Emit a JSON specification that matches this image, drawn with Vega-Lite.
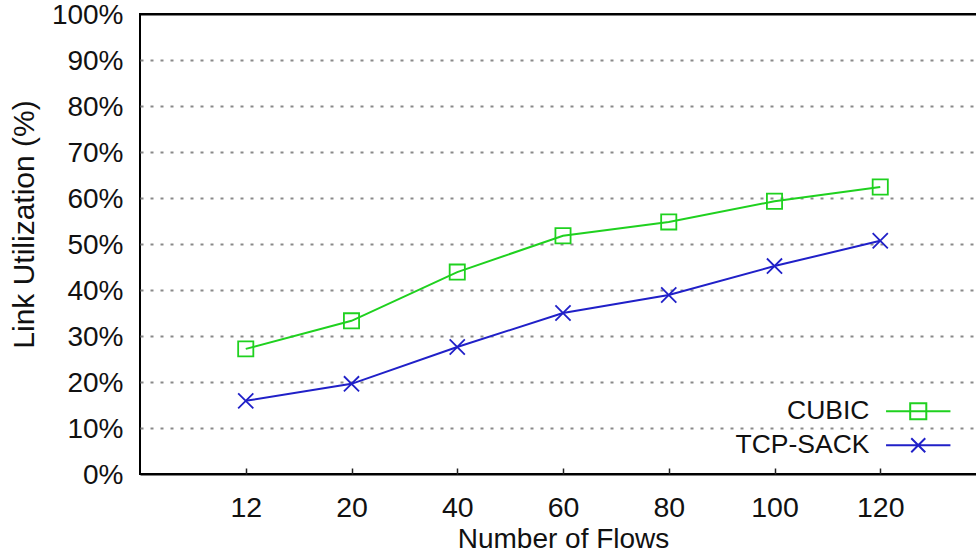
{
  "$schema": "https://vega.github.io/schema/vega-lite/v6.json",
  "width": 846,
  "height": 460,
  "autosize": {"type": "none"},
  "padding": {"left": 140, "top": 14, "right": 0, "bottom": 82},
  "background": "white",
  "config": {
    "font": "Liberation Sans",
    "view": {"stroke": "black", "strokeWidth": 2},
    "axis": {"labelFont": "Liberation Sans", "titleFont": "Liberation Sans", "labelColor": "#111", "titleColor": "#111", "titleFontWeight": "normal"}
  },
  "data": {
    "values": [
      {"flows": "12", "series": "CUBIC", "util": 27.2},
      {"flows": "20", "series": "CUBIC", "util": 33.3},
      {"flows": "40", "series": "CUBIC", "util": 43.9},
      {"flows": "60", "series": "CUBIC", "util": 51.8},
      {"flows": "80", "series": "CUBIC", "util": 54.8},
      {"flows": "100", "series": "CUBIC", "util": 59.3},
      {"flows": "120", "series": "CUBIC", "util": 62.4},
      {"flows": "12", "series": "TCP-SACK", "util": 15.9},
      {"flows": "20", "series": "TCP-SACK", "util": 19.6},
      {"flows": "40", "series": "TCP-SACK", "util": 27.6},
      {"flows": "60", "series": "TCP-SACK", "util": 35.0},
      {"flows": "80", "series": "TCP-SACK", "util": 38.9},
      {"flows": "100", "series": "TCP-SACK", "util": 45.2},
      {"flows": "120", "series": "TCP-SACK", "util": 50.7}
    ]
  },
  "encoding": {
    "x": {
      "field": "flows", "type": "ordinal", "sort": null,
      "scale": {"type": "point", "padding": 1},
      "axis": {
        "title": "Number of Flows", "titleFontSize": 28, "labelFontSize": 28.5, "labelAngle": 0,
        "domain": false, "grid": false, "ticks": true, "tickSize": -6, "tickColor": "#222", "tickWidth": 1.5,
        "labelPadding": 25, "titlePadding": 4
      }
    },
    "y": {
      "field": "util", "type": "quantitative",
      "scale": {"domain": [0, 100], "nice": false},
      "axis": {
        "title": "Link Utilization (%)", "titleFontSize": 30, "labelFontSize": 28,
        "values": [0, 10, 20, 30, 40, 50, 60, 70, 80, 90, 100],
        "labelExpr": "datum.value + '%'",
        "domain": false, "ticks": false, "labelPadding": 17, "labelOffset": 1.5,
        "grid": true,
        "gridColor": {"condition": {"test": "datum.value === 0 || datum.value === 100", "value": "black"}, "value": "#8a8a8a"},
        "gridDash": {"condition": {"test": "datum.value === 0 || datum.value === 100", "value": []}, "value": [3, 7]},
        "gridWidth": 2,
        "titleX": -101, "titleY": 210
      }
    }
  },
  "layer": [
    {
      "transform": [{"filter": "datum.series === 'CUBIC'"}],
      "mark": {"type": "line", "strokeWidth": 2, "color": "#1fd11f"},
      "encoding": {}
    },
    {
      "transform": [{"filter": "datum.series === 'TCP-SACK'"}],
      "mark": {"type": "line", "strokeWidth": 2, "color": "#2020c8"},
      "encoding": {}
    },
    {
      "transform": [{"filter": "datum.series === 'CUBIC'"}],
      "mark": {"type": "point", "filled": false, "strokeWidth": 1.8, "opacity": 1, "shape": "M-1,-1H1V1H-1Z", "size": 230, "color": "#1fd11f"}
    },
    {
      "transform": [{"filter": "datum.series === 'TCP-SACK'"}],
      "mark": {"type": "point", "filled": false, "strokeWidth": 1.8, "opacity": 1, "shape": "M-1,-1L1,1M-1,1L1,-1", "size": 230, "color": "#2020c8"}
    },
    {
      "transform": [{"filter": "datum.util < 0"}],
      "mark": {"type": "point", "filled": false, "strokeWidth": 2, "opacity": 1},
      "encoding": {
        "color": {
          "field": "series", "type": "nominal",
          "scale": {"domain": ["CUBIC", "TCP-SACK"], "range": ["#1fd11f", "#2020c8"]},
          "legend": {
            "orient": "none", "legendX": 765, "legendY": 384, "title": null,
            "labelFontSize": 26.5, "labelFont": "Liberation Sans", "labelColor": "#111",
            "labelAlign": "right", "labelOffset": -62, "symbolSize": 196, "padding": 0,
            "rowPadding": 7, "symbolStrokeWidth": 2
          }
        },
        "shape": {
          "field": "series", "type": "nominal",
          "scale": {"domain": ["CUBIC", "TCP-SACK"], "range": ["M-4.6,0L4.6,0M-1.15,-1.15L1.15,-1.15L1.15,1.15L-1.15,1.15Z", "M-4.6,0L4.6,0M-1,-1L1,1M-1,1L1,-1"]},
          "legend": {
            "orient": "none", "legendX": 765, "legendY": 384, "title": null,
            "labelFontSize": 26.5, "labelFont": "Liberation Sans", "labelColor": "#111",
            "labelAlign": "right", "labelOffset": -62, "symbolSize": 196, "padding": 0,
            "rowPadding": 7, "symbolStrokeWidth": 2
          }
        }
      }
    }
  ]
}
